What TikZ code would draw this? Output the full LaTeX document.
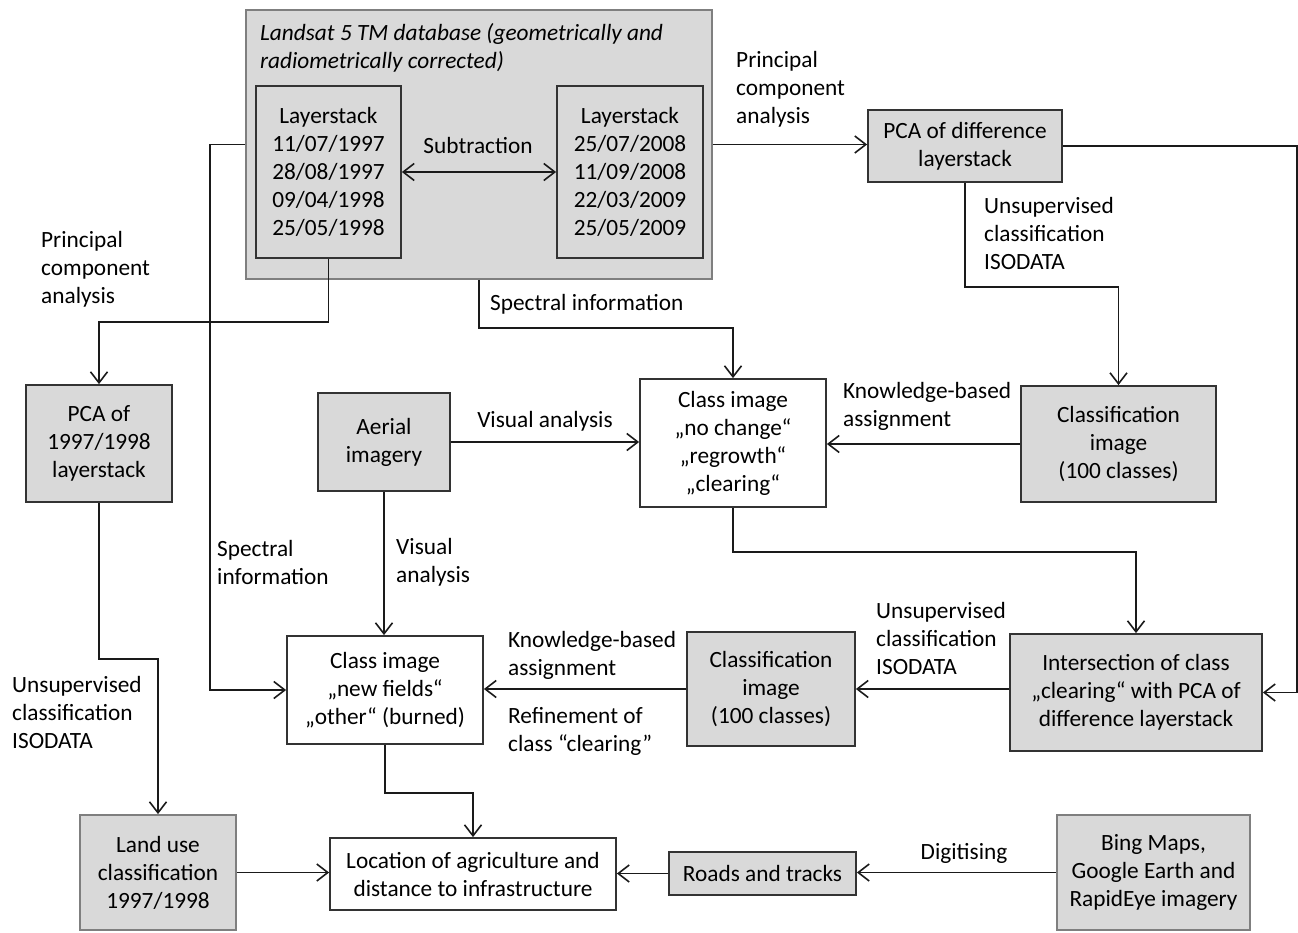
\documentclass[tikz,border=0pt]{standalone}
\usepackage{fontspec}
\setmainfont{Carlito}
\usetikzlibrary{arrows.meta}
\definecolor{boxfill}{HTML}{D9D9D9}
\definecolor{lnc}{HTML}{1A1A1A}
\definecolor{brd}{HTML}{333333}
\definecolor{lbrd}{HTML}{7F7F7F}
\begin{document}
\begin{tikzpicture}[x=1pt,y=-1pt,
  font=\fontsize{23.3}{28}\selectfont,
  gbox/.style={draw=brd,fill=boxfill,line width=1.8pt,align=center,inner sep=0pt},
  wbox/.style={draw=brd,fill=white,line width=1.8pt,align=center,inner sep=0pt},
  lab/.style={align=left,anchor=west,inner sep=0pt},
  arr/.style={draw=lnc,line width=1.8pt,-{Straight Barb[length=11pt,width=17pt,line width=1.6pt]}},
  ln/.style={draw=lnc,line width=1.8pt}]
\useasboundingbox (0,0) rectangle (1298,932);
% boxes
\node[gbox,draw=lbrd,minimum width=466pt,minimum height=269pt] (db) at (479,144.5) {};
\node[lab] (dbt) at (260,48) {\itshape Landsat 5 TM database (geometrically and\\\itshape radiometrically corrected)};
\node[gbox,minimum width=145pt,minimum height=172pt] (ls1) at (328.5,172) {Layerstack\\11/07/1997\\28/08/1997\\09/04/1998\\25/05/1998};
\node[gbox,minimum width=146pt,minimum height=172pt] (ls2) at (630,172) {Layerstack\\25/07/2008\\11/09/2008\\22/03/2009\\25/05/2009};
\node[gbox,minimum width=194pt,minimum height=72pt] (pcad) at (965,146) {PCA of difference\\layerstack};
\node[gbox,minimum width=195pt,minimum height=116pt] (cl1) at (1118.5,444) {Classification\\image\\(100 classes)};
\node[wbox,minimum width=186pt,minimum height=128pt] (ci) at (733,443) {Class image\\„no change“\\„regrowth“\\„clearing“};
\node[gbox,minimum width=132pt,minimum height=98pt] (aer) at (384,442) {Aerial\\imagery};
\node[gbox,minimum width=146pt,minimum height=117pt] (pca1) at (99,443.5) {PCA of\\1997/1998\\layerstack};
\node[wbox,minimum width=196pt,minimum height=108pt] (nf) at (385,690) {Class image\\„new fields“\\„other“ (burned)};
\node[gbox,minimum width=168pt,minimum height=114pt] (cl2) at (771,689) {Classification\\image\\(100 classes)};
\node[gbox,minimum width=252pt,minimum height=117pt] (int) at (1136,692.5) {Intersection of class\\„clearing“ with PCA of\\difference layerstack};
\node[gbox,draw=lbrd,minimum width=156pt,minimum height=115pt] (lu) at (158,872.5) {Land use\\classification\\1997/1998};
\node[wbox,minimum width=286pt,minimum height=72pt] (loc) at (473,874) {Location of agriculture and\\distance to infrastructure};
\node[gbox,minimum width=187pt,minimum height=43pt] (rd) at (762.5,873.5) {Roads and tracks};
\node[gbox,draw=lbrd,minimum width=193pt,minimum height=115pt] (bing) at (1153.5,872.5) {Bing Maps,\\Google Earth and\\RapidEye imagery};
% labels
\node (sub) at (478,145) {Subtraction};
\node[lab] (l1) at (736,89) {Principal\\component\\analysis};
\node[lab] (l2) at (41,269) {Principal\\component\\analysis};
\node[lab] (l3) at (490,304) {Spectral information};
\node[lab] (l4) at (984,233) {Unsupervised\\classification\\ISODATA};
\node[lab] (l5) at (843,406) {Knowledge-based\\assignment};
\node (l6) at (545,421) {Visual analysis};
\node[lab] (l7) at (217,562) {Spectral\\information};
\node[lab] (l8) at (396,562) {Visual\\analysis};
\node[lab] (l9) at (876,638) {Unsupervised\\classification\\ISODATA};
\node[lab] (l10) at (508,655) {Knowledge-based\\assignment};
\node[lab] (l11) at (508,731) {Refinement of\\class “clearing”};
\node[lab] (l12) at (12,712) {Unsupervised\\classification\\ISODATA};
\node (l13) at (964,853) {Digitising};
% connectors
\draw[arr,{Straight Barb[length=11pt,width=17pt,line width=1.6pt]}-{Straight Barb[length=11pt,width=17pt,line width=1.6pt]}] (ls1.east) -- (ls2.west);
\draw[arr] (db.west) -- (210,144.5) |- (nf.west);
\draw[arr] (db.east) -- (db.east -| pcad.west);
\draw[arr] (ls1.south) -- ++(0,63) -| (pca1.north);
\draw[arr] (db.south) -- ++(0,48) -| (ci.north);
\draw[arr] (pcad.south) -- ++(0,104) -| (cl1.north);
\draw[arr] (pcad.east) -- (1297,146) |- (int.east);
\draw[arr] (cl1.west) -- (cl1.west -| ci.east);
\draw[arr] (aer.east) -- (ci.west |- aer.east);
\draw[arr] (aer.south) -- (aer.south |- nf.north);
\draw[arr] (ci.south) -- ++(0,44) -| (int.north);
\draw[arr] (int.west |- cl2.east) -- (cl2.east);
\draw[arr] (cl2.west) -- (cl2.west -| nf.east);
\draw[arr] (pca1.south) -- (99,659) -| (lu.north);
\draw[arr] (nf.south) -- ++(0,48) -| (loc.north);
\draw[arr] (lu.east) -- (lu.east -| loc.west);
\draw[arr] (rd.west) -- (rd.west -| loc.east);
\draw[arr] (bing.west) -- (bing.west -| rd.east);
\end{tikzpicture}
\end{document}
